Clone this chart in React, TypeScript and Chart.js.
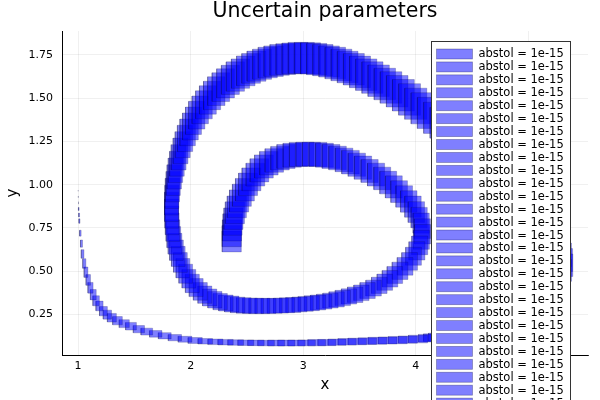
import React, { useEffect, useRef } from 'react';
import { Chart, registerables } from 'chart.js';

Chart.register(...registerables);

// ---- data: centre of each uncertainty box (x, y) and its half-widths ----
const xValues = [
  // descent from (1, 1)
  1.000, 1.001, 1.002, 1.004, 1.006, 1.009, 1.012, 1.020, 1.030, 1.040,
  1.055, 1.070, 1.090,
  1.110, 1.135, 1.160, 1.190, 1.225, 1.260, 1.300, 1.350, 1.410, 1.470,
  1.540, 1.610, 1.690, 1.770, 1.860, 1.950, 2.040,
  // bottom run
  2.130, 2.220, 2.310, 2.400, 2.490, 2.580, 2.670, 2.760, 2.850, 2.940,
  3.030, 3.120, 3.210, 3.300, 3.390, 3.480, 3.570, 3.660, 3.750, 3.840,
  3.930, 4.020, 4.110,
  // right turn (mostly behind the legend)
  4.155, 4.200, 4.245, 4.290, 4.335, 4.380, 4.425, 4.470, 4.515, 4.560,
  4.605, 4.650, 4.695, 4.740, 4.785, 4.830, 4.875, 4.920, 4.965, 5.010,
  5.055, 5.100, 5.140, 5.180, 5.220, 5.250, 5.270, 5.280, 5.278, 5.268,
  5.252, 5.230, 5.205, 5.177, 5.146, 5.113, 5.078, 5.041, 5.002, 4.962,
  4.920, 4.877, 4.833, 4.788, 4.742, 4.695, 4.647, 4.598, 4.548, 4.497,
  4.445, 4.392, 4.338, 4.283, 4.227, 4.170, 4.113,
  // outer arc, middle loop, inner arc
  4.056, 4.000, 3.945, 3.890, 3.835, 3.780, 3.725, 3.670, 3.615, 3.560,
  3.505, 3.450, 3.395, 3.340, 3.285, 3.230, 3.175, 3.120, 3.065, 3.010,
  2.955, 2.900, 2.845, 2.790, 2.737, 2.685, 2.635, 2.585, 2.537, 2.490,
  2.443, 2.397, 2.353, 2.310, 2.268, 2.228, 2.190, 2.153, 2.118, 2.085,
  2.054, 2.025, 1.998, 1.973, 1.950, 1.929, 1.910, 1.893, 1.878, 1.865,
  1.854, 1.845, 1.838, 1.833, 1.830, 1.830, 1.832, 1.836, 1.842, 1.850,
  1.861, 1.874, 1.890, 1.909, 1.931, 1.956, 1.984, 2.015, 2.049, 2.086,
  2.126, 2.169, 2.215, 2.263, 2.313, 2.365, 2.418, 2.472, 2.527, 2.582,
  2.637, 2.692, 2.747, 2.802, 2.857, 2.912, 2.967, 3.022, 3.077, 3.132,
  3.187, 3.242, 3.297, 3.352, 3.407, 3.462, 3.517, 3.572, 3.625, 3.676,
  3.725, 3.771, 3.814, 3.860, 3.905, 3.945, 3.980, 4.010, 4.035, 4.050,
  4.060, 4.058, 4.048, 4.030, 4.005, 3.975, 3.938, 3.897, 3.852, 3.805,
  3.755, 3.702, 3.647, 3.590, 3.531, 3.476, 3.420, 3.363, 3.305, 3.247,
  3.189, 3.131, 3.073, 3.015, 2.958, 2.902, 2.847, 2.794, 2.743, 2.695,
  2.651, 2.611, 2.575, 2.540, 2.510, 2.482, 2.455, 2.430, 2.410, 2.393,
  2.380, 2.372, 2.367, 2.365, 2.365,
];

const yValues = [
  1.000, 0.965, 0.930, 0.895, 0.860, 0.825, 0.790, 0.720, 0.660, 0.600,
  0.545, 0.495, 0.450,
  0.405, 0.365, 0.330, 0.300, 0.270, 0.250, 0.232, 0.215, 0.198, 0.183,
  0.166, 0.152, 0.139, 0.128, 0.117, 0.108, 0.101,
  0.096, 0.093, 0.091, 0.089, 0.088, 0.087, 0.086, 0.086, 0.086, 0.086,
  0.087, 0.088, 0.089, 0.091, 0.093, 0.095, 0.097, 0.099, 0.101, 0.103,
  0.106, 0.109, 0.114,
  0.117, 0.120, 0.124, 0.129, 0.134, 0.140, 0.147, 0.154, 0.162, 0.171,
  0.181, 0.192, 0.204, 0.217, 0.231, 0.246, 0.263, 0.281, 0.300, 0.320,
  0.342, 0.366, 0.391, 0.418, 0.446, 0.475, 0.505, 0.535, 0.565, 0.595,
  0.625, 0.655, 0.685, 0.715, 0.745, 0.775, 0.805, 0.835, 0.865, 0.896,
  0.927, 0.958, 0.989, 1.020, 1.051, 1.082, 1.113, 1.144, 1.175, 1.206,
  1.237, 1.268, 1.298, 1.328, 1.357, 1.386, 1.414,
  1.441, 1.467, 1.492, 1.516, 1.539, 1.561, 1.581, 1.600, 1.618, 1.635,
  1.651, 1.666, 1.679, 1.691, 1.702, 1.711, 1.719, 1.725, 1.729, 1.731,
  1.731, 1.729, 1.725, 1.720, 1.713, 1.705, 1.695, 1.684, 1.671, 1.657,
  1.641, 1.624, 1.605, 1.585, 1.563, 1.540, 1.515, 1.489, 1.461, 1.432,
  1.401, 1.369, 1.336, 1.302, 1.267, 1.231, 1.195, 1.158, 1.121, 1.083,
  1.045, 1.007, 0.969, 0.930, 0.891, 0.852, 0.813, 0.774, 0.735, 0.697,
  0.659, 0.622, 0.586, 0.551, 0.518, 0.486, 0.457, 0.430, 0.406, 0.384,
  0.365, 0.349, 0.336, 0.325, 0.317, 0.311, 0.306, 0.303, 0.301, 0.300,
  0.300, 0.300, 0.301, 0.302, 0.304, 0.306, 0.309, 0.312, 0.316, 0.320,
  0.325, 0.331, 0.338, 0.346, 0.355, 0.365, 0.376, 0.389, 0.403, 0.419,
  0.437, 0.457, 0.479, 0.503, 0.529, 0.557, 0.587, 0.618, 0.650, 0.682,
  0.714, 0.746, 0.778, 0.810, 0.842, 0.873, 0.903, 0.932, 0.960, 0.987,
  1.012, 1.036, 1.058, 1.079, 1.098, 1.115, 1.130, 1.143, 1.154, 1.163,
  1.170, 1.174, 1.176, 1.176, 1.174, 1.170, 1.163, 1.153, 1.140, 1.124,
  1.105, 1.083, 1.058, 1.031, 1.002, 0.971, 0.939, 0.906, 0.872, 0.838,
  0.804, 0.770, 0.736, 0.703, 0.672,
];

const xErrors = [
  0.000, 0.001, 0.002, 0.002, 0.003, 0.004, 0.005, 0.007, 0.009, 0.012,
  0.014, 0.017, 0.020,
  0.023, 0.026, 0.029, 0.032, 0.035, 0.037, 0.040, 0.043, 0.045, 0.048,
  0.050, 0.052, 0.055, 0.057, 0.059, 0.061, 0.063,
  0.065, 0.067, 0.068, 0.070, 0.071, 0.073, 0.074, 0.075, 0.076, 0.077,
  0.078, 0.079, 0.080, 0.080, 0.081, 0.082, 0.082, 0.083, 0.083, 0.084,
  0.084, 0.085, 0.085,
  0.086, 0.087, 0.087, 0.088, 0.088, 0.089, 0.090, 0.091, 0.092, 0.093,
  0.094, 0.095, 0.096, 0.097, 0.098, 0.099, 0.100, 0.102, 0.103, 0.104,
  0.106, 0.107, 0.109, 0.110, 0.112, 0.113, 0.114, 0.115, 0.115, 0.115,
  0.115, 0.114, 0.114, 0.113, 0.113, 0.112, 0.112, 0.111, 0.111, 0.110,
  0.110, 0.109, 0.109, 0.108, 0.107, 0.107, 0.106, 0.105, 0.105, 0.104,
  0.103, 0.103, 0.102, 0.101, 0.101, 0.100, 0.099,
  0.098, 0.098, 0.097, 0.097, 0.096, 0.096, 0.095, 0.095, 0.094, 0.094,
  0.093, 0.093, 0.092, 0.092, 0.091, 0.091, 0.090, 0.090, 0.089, 0.089,
  0.088, 0.088, 0.087, 0.086, 0.086, 0.085, 0.084, 0.084, 0.083, 0.082,
  0.081, 0.081, 0.080, 0.079, 0.078, 0.077, 0.076, 0.075, 0.074, 0.073,
  0.072, 0.071, 0.070, 0.069, 0.068, 0.067, 0.066, 0.066, 0.065, 0.064,
  0.064, 0.063, 0.063, 0.062, 0.062, 0.062, 0.061, 0.061, 0.061, 0.061,
  0.061, 0.061, 0.061, 0.061, 0.061, 0.061, 0.061, 0.062, 0.062, 0.062,
  0.062, 0.063, 0.063, 0.063, 0.064, 0.064, 0.064, 0.065, 0.065, 0.065,
  0.066, 0.066, 0.066, 0.066, 0.067, 0.067, 0.067, 0.067, 0.067, 0.068,
  0.068, 0.068, 0.068, 0.068, 0.068, 0.068, 0.068, 0.068, 0.069, 0.069,
  0.069, 0.069, 0.069, 0.070, 0.070, 0.070, 0.070, 0.071, 0.071, 0.071,
  0.071, 0.072, 0.072, 0.072, 0.073, 0.073, 0.073, 0.074, 0.074, 0.075,
  0.075, 0.075, 0.076, 0.076, 0.077, 0.077, 0.078, 0.078, 0.078, 0.079,
  0.079, 0.080, 0.080, 0.080, 0.081, 0.081, 0.081, 0.082, 0.082, 0.082,
  0.083, 0.083, 0.083, 0.084, 0.084, 0.084, 0.084, 0.085, 0.085, 0.085,
  0.085, 0.085, 0.085, 0.085, 0.085,
];

const yErrors = [
  0.000, 0.003, 0.005, 0.007, 0.009, 0.011, 0.013, 0.017, 0.021, 0.025,
  0.028, 0.030, 0.031,
  0.031, 0.030, 0.029, 0.028, 0.027, 0.026, 0.025, 0.024, 0.023, 0.022,
  0.021, 0.020, 0.019, 0.018, 0.018, 0.017, 0.017,
  0.016, 0.016, 0.016, 0.016, 0.016, 0.016, 0.016, 0.017, 0.017, 0.017,
  0.017, 0.018, 0.018, 0.018, 0.019, 0.019, 0.019, 0.020, 0.020, 0.021,
  0.021, 0.022, 0.022,
  0.022, 0.023, 0.024, 0.025, 0.026, 0.027, 0.028, 0.029, 0.031, 0.032,
  0.034, 0.035, 0.037, 0.039, 0.040, 0.042, 0.044, 0.046, 0.048, 0.050,
  0.052, 0.054, 0.056, 0.058, 0.060, 0.062, 0.063, 0.065, 0.066, 0.068,
  0.069, 0.071, 0.072, 0.073, 0.075, 0.076, 0.077, 0.078, 0.079, 0.080,
  0.081, 0.082, 0.083, 0.084, 0.084, 0.085, 0.086, 0.086, 0.087, 0.087,
  0.088, 0.088, 0.089, 0.089, 0.089, 0.090, 0.090,
  0.090, 0.090, 0.091, 0.091, 0.091, 0.091, 0.091, 0.091, 0.091, 0.091,
  0.091, 0.091, 0.091, 0.091, 0.091, 0.090, 0.090, 0.090, 0.090, 0.090,
  0.090, 0.089, 0.089, 0.089, 0.088, 0.088, 0.087, 0.087, 0.086, 0.086,
  0.085, 0.085, 0.084, 0.084, 0.083, 0.083, 0.082, 0.082, 0.081, 0.080,
  0.080, 0.079, 0.078, 0.077, 0.076, 0.075, 0.074, 0.073, 0.072, 0.071,
  0.070, 0.069, 0.068, 0.067, 0.066, 0.065, 0.064, 0.063, 0.062, 0.061,
  0.060, 0.059, 0.058, 0.057, 0.056, 0.055, 0.054, 0.053, 0.052, 0.051,
  0.050, 0.049, 0.048, 0.047, 0.046, 0.046, 0.045, 0.045, 0.044, 0.044,
  0.044, 0.043, 0.043, 0.043, 0.043, 0.043, 0.043, 0.043, 0.043, 0.043,
  0.043, 0.043, 0.044, 0.044, 0.044, 0.045, 0.045, 0.046, 0.046, 0.047,
  0.047, 0.048, 0.049, 0.050, 0.051, 0.051, 0.052, 0.053, 0.054, 0.055,
  0.056, 0.057, 0.058, 0.059, 0.060, 0.061, 0.062, 0.062, 0.063, 0.064,
  0.065, 0.065, 0.066, 0.066, 0.067, 0.067, 0.068, 0.068, 0.068, 0.069,
  0.069, 0.069, 0.069, 0.069, 0.069, 0.069, 0.069, 0.068, 0.068, 0.068,
  0.067, 0.067, 0.066, 0.066, 0.065, 0.065, 0.064, 0.064, 0.063, 0.063,
  0.062, 0.062, 0.061, 0.061, 0.060,
];

const seriesLabel = 'abstol = 1e-15';
const titleText = 'Uncertain parameters';
const xAxisLabel = 'x';
const yAxisLabel = 'y';
const xTickValues = [1, 2, 3, 4, 5];
const yTickValues = [0.25, 0.5, 0.75, 1.0, 1.25, 1.5, 1.75];
const xLimits = [0.857, 5.53];
const yLimits = [0.017, 1.887];

const FONT = '"DejaVu Sans", "Liberation Sans", sans-serif';
const BOX_FILL = 'rgba(0,0,255,0.5)';
const BOX_EDGE = 'rgba(0,0,70,0.3)';

const titlePlugin = {
  id: 'plotTitle',
  afterDraw(chart: any) {
    const { ctx, chartArea } = chart;
    ctx.save();
    ctx.fillStyle = '#000';
    ctx.font = `20.5px ${FONT}`;
    ctx.textAlign = 'center';
    ctx.textBaseline = 'middle';
    ctx.fillText(titleText, (chartArea.left + chartArea.right) / 2, 12);
    ctx.restore();
  },
};

const legendPlugin = {
  id: 'insetLegend',
  afterDraw(chart: any) {
    const { ctx, chartArea, height } = chart;
    const right = chartArea.right - 17.5;
    const left = right - 139;
    const top = chartArea.top + 10.5;
    const rowH = 12.93;
    const items = chart.data.datasets;
    const boxH = 8 + items.length * rowH;
    ctx.save();
    ctx.fillStyle = '#ffffff';
    ctx.fillRect(left, top, right - left, boxH);
    ctx.strokeStyle = '#333333';
    ctx.lineWidth = 1;
    ctx.strokeRect(left, top, right - left, boxH);
    ctx.font = `11.5px ${FONT}`;
    ctx.textBaseline = 'middle';
    ctx.textAlign = 'left';
    for (let i = 0; i < items.length; i++) {
      const cy = top + 12.5 + i * rowH;
      if (cy - rowH > height) break;
      const ds = items[i];
      ctx.fillStyle = ds.backgroundColor;
      ctx.fillRect(left + 5, cy - 5, 36, 10);
      ctx.strokeStyle = 'rgba(0,0,60,0.35)';
      ctx.lineWidth = 0.8;
      ctx.strokeRect(left + 5, cy - 5, 36, 10);
      ctx.fillStyle = '#000';
      ctx.fillText(ds.label, left + 47, cy + 0.5);
    }
    ctx.restore();
  },
};

export default function App() {
  const canvasRef = useRef<HTMLCanvasElement | null>(null);

  useEffect(() => {
    if (!canvasRef.current) return;
    const n = Math.min(xValues.length, yValues.length, xErrors.length, yErrors.length);
    const datasets = [];
    for (let i = 0; i < n; i++) {
      const x = xValues[i];
      const y = yValues[i];
      const dx = xErrors[i];
      const dy = yErrors[i];
      datasets.push({
        label: seriesLabel,
        data: [
          { x: x - dx, y: y - dy },
          { x: x + dx, y: y - dy },
          { x: x + dx, y: y + dy },
          { x: x - dx, y: y + dy },
          { x: x - dx, y: y - dy },
        ],
        fill: 'shape',
        backgroundColor: BOX_FILL,
        borderColor: BOX_EDGE,
        borderWidth: 0.7,
        borderJoinStyle: 'round',
        pointRadius: 0,
        pointHoverRadius: 0,
        tension: 0,
      });
    }

    const chart = new Chart(canvasRef.current, {
      type: 'line',
      data: { datasets } as any,
      options: {
        animation: false,
        responsive: false,
        events: [],
        layout: { padding: { top: 31, right: 12, left: 0, bottom: 0 } },
        plugins: {
          legend: { display: false },
          title: { display: false },
          tooltip: { enabled: false },
        },
        scales: {
          x: {
            type: 'linear',
            min: xLimits[0],
            max: xLimits[1],
            afterBuildTicks: (s: any) => {
              s.ticks = xTickValues.map((v) => ({ value: v }));
            },
            afterFit: (s: any) => {
              s.height = 45;
            },
            grid: { color: 'rgba(0,0,0,0.1)', lineWidth: 0.6, drawTicks: false },
            border: { display: true, color: '#000', width: 1 },
            ticks: {
              color: '#000',
              font: { family: FONT, size: 11 },
              padding: 5,
              maxRotation: 0,
              autoSkip: false,
              callback: (v: any) => String(v),
            },
            title: {
              display: true,
              text: xAxisLabel,
              color: '#000',
              font: { family: FONT, size: 15 },
              padding: { top: 0, bottom: 6 },
            },
          },
          y: {
            type: 'linear',
            min: yLimits[0],
            max: yLimits[1],
            afterBuildTicks: (s: any) => {
              s.ticks = yTickValues.map((v) => ({ value: v }));
            },
            afterFit: (s: any) => {
              s.width = 62;
            },
            grid: { color: 'rgba(0,0,0,0.1)', lineWidth: 0.6, drawTicks: false },
            border: { display: true, color: '#000', width: 1 },
            ticks: {
              color: '#000',
              font: { family: FONT, size: 11 },
              padding: 9,
              autoSkip: false,
              callback: (v: any) => Number(v).toFixed(2),
            },
            title: {
              display: true,
              text: yAxisLabel,
              color: '#000',
              font: { family: FONT, size: 15 },
              padding: { top: 4, bottom: 0 },
            },
          },
        },
      } as any,
      plugins: [titlePlugin, legendPlugin],
    });
    return () => chart.destroy();
  }, []);

  return (
    <div style={{ position: 'fixed', left: 0, top: 0, width: 600, height: 400, background: '#fff' }}>
      <canvas ref={canvasRef} width={600} height={400} style={{ width: 600, height: 400, display: 'block' }} />
    </div>
  );
}
